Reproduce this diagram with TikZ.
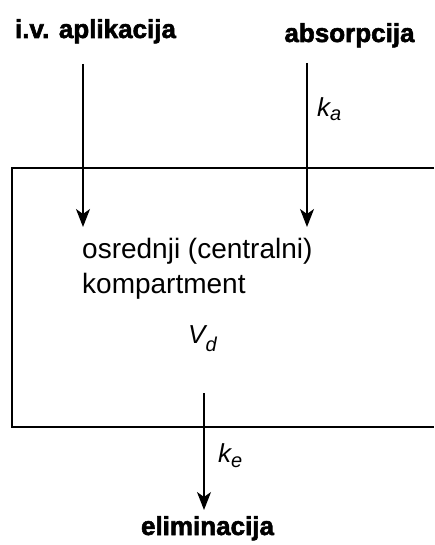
\documentclass[tikz,border=0pt]{standalone}
\usepackage{fontspec}
\setmainfont{Liberation Sans}
\newfontfamily\headfont{Liberation Sans}[BoldFeatures={FakeBold=2.2}]
\usetikzlibrary{arrows.meta}
\newcommand{\ratelab}[3]{{\itshape #1\raisebox{-#3pt}{\fontsize{20}{22}\selectfont #2}}}
\begin{document}
\begin{tikzpicture}[x=1pt,y=-1pt,
  head/.style={font=\headfont\bfseries\fontsize{26}{30}\selectfont, inner sep=0, anchor=base},
  body/.style={font=\fontsize{28}{35}\selectfont, inner sep=0, anchor=base west, align=left},
  rate/.style={font=\fontsize{26}{30}\selectfont, inner sep=0, anchor=base west},
  flow/.style={line width=1.4pt, -{Stealth[length=18pt,width=14pt,inset=5pt]}},
  wall/.style={line width=1.4pt}]
\useasboundingbox (0,0) rectangle (434,545);
% titles
\node[head] (iv) at (95.5,38) {i.v. aplikacija};
\node[head] (abs) at (349.5,42) {absorpcija};
\node[head] (elim) at (207.5,535) {eliminacija};
% compartment box (open on the right)
\draw[wall] (434,168) -- (12,168) -- (12,427) -- (434,427);
% texts inside
\node[body] (c1) at (82,258) {osrednji (centralni)};
\node[body] (c2) at (82,293) {kompartment};
\node[rate] (vd) at (188,343) {\ratelab{V}{d}{8}};
\node[rate] (ka) at (317,117) {\ratelab{k}{a}{4}};
\node[rate] (ke) at (218,462) {\ratelab{k}{e}{5}};
% arrow endpoints
\coordinate (ivs) at (83,64);
\coordinate (ive) at (83,227);
\coordinate (abss) at (307,63);
\coordinate (abse) at (307,227);
\coordinate (els) at (204,393);
\coordinate (ele) at (204,510);
\draw[flow] (ivs) -- (ive);
\draw[flow] (abss) -- (abse);
\draw[flow] (els) -- (ele);
\end{tikzpicture}
\end{document}
